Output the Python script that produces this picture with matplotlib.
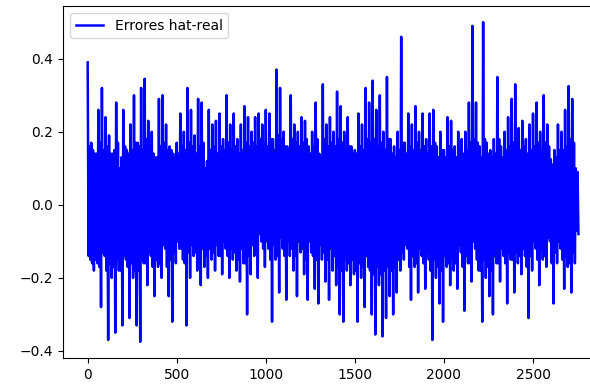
import numpy as np
import matplotlib
matplotlib.use('Agg')
import matplotlib.pyplot as plt

# upper / lower swings of the error series (one group every 20 samples)
highs = [0.39, 0.17, 0.14, 0.26, 0.32, 0.24, 0.19, 0.14, 0.28, 0.10,
         0.26, 0.15, 0.22, 0.30, 0.17, 0.32, 0.345, 0.23, 0.20, 0.13,
         0.29, 0.30, 0.22,
         0.16, 0.14, 0.17, 0.25, 0.20, 0.32, 0.26, 0.19, 0.29, 0.28,
         0.10, 0.26, 0.22, 0.23, 0.25, 0.18, 0.30, 0.22, 0.25, 0.18,
         0.22, 0.27, 0.24,
         0.20, 0.24, 0.25, 0.22, 0.26, 0.25, 0.18, 0.37, 0.32, 0.20,
         0.16, 0.30, 0.22, 0.20, 0.24, 0.23, 0.16, 0.20, 0.28, 0.14,
         0.33, 0.22, 0.24, 0.20,
         0.31, 0.27, 0.20, 0.24, 0.16, 0.15, 0.25, 0.22, 0.32, 0.28,
         0.34, 0.26, 0.30, 0.20, 0.35, 0.18, 0.16, 0.20, 0.46, 0.17,
         0.25, 0.22, 0.27, 0.20,
         0.25, 0.18, 0.25, 0.26, 0.16, 0.20, 0.15, 0.24, 0.23, 0.16,
         0.20, 0.18, 0.20, 0.28, 0.49, 0.28, 0.16, 0.50, 0.17, 0.15,
         0.18, 0.35, 0.16,
         0.20, 0.24, 0.29, 0.33, 0.21, 0.23, 0.18, 0.22, 0.25, 0.28,
         0.20, 0.30, 0.22, 0.125, 0.15, 0.22, 0.20, 0.26, 0.325, 0.29,
         0.10]
lows = [-0.15, -0.18, -0.16, -0.28, -0.14, -0.37, -0.20, -0.35, -0.18, -0.33,
        -0.15, -0.31, -0.20, -0.33, -0.375, -0.16, -0.22, -0.14, -0.25, -0.17,
        -0.20, -0.12, -0.25,
        -0.32, -0.16, -0.12, -0.15, -0.33, -0.20, -0.14, -0.18, -0.22, -0.17,
        -0.20, -0.15, -0.18, -0.14, -0.19, -0.12, -0.20, -0.15, -0.18, -0.21,
        -0.16, -0.30, -0.19,
        -0.14, -0.20, -0.10, -0.17, -0.12, -0.32, -0.15, -0.24, -0.12, -0.26,
        -0.14, -0.18, -0.25, -0.13, -0.19, -0.26, -0.13, -0.23, -0.27, -0.15,
        -0.21, -0.26, -0.18, -0.22,
        -0.30, -0.32, -0.18, -0.22, -0.19, -0.32, -0.20, -0.28, -0.17, -0.30,
        -0.355, -0.22, -0.36, -0.31, -0.25, -0.30, -0.24, -0.18, -0.15, -0.12,
        -0.26, -0.17, -0.24, -0.14,
        -0.23, -0.15, -0.37, -0.20, -0.27, -0.32, -0.17, -0.22, -0.18, -0.23,
        -0.13, -0.29, -0.16, -0.21, -0.12, -0.18, -0.32, -0.20, -0.25, -0.30,
        -0.16, -0.21, -0.14,
        -0.27, -0.15, -0.24, -0.16, -0.19, -0.14, -0.31, -0.18, -0.12, -0.22,
        -0.15, -0.17, -0.10, -0.27, -0.16, -0.12, -0.23, -0.17, -0.24, -0.16,
        -0.08]
# smaller swings inside the solid band
body_highs = [0.16, 0.15, 0.14, 0.17, 0.15, 0.16, 0.14, 0.15, 0.17, 0.13,
              0.16, 0.14, 0.15, 0.17, 0.16, 0.15, 0.18, 0.16, 0.14, 0.13,
              0.16, 0.17, 0.15,
              0.15, 0.13, 0.14, 0.16, 0.15, 0.17, 0.16, 0.14, 0.16, 0.17,
              0.12, 0.15, 0.16, 0.14, 0.16, 0.15, 0.17, 0.15, 0.16, 0.14,
              0.15, 0.17, 0.16,
              0.17, 0.16, 0.18, 0.17, 0.16, 0.18, 0.15, 0.19, 0.18, 0.16,
              0.15, 0.18, 0.17, 0.16, 0.17, 0.18, 0.14, 0.16, 0.18, 0.13,
              0.18, 0.16, 0.17, 0.16,
              0.18, 0.17, 0.15, 0.16, 0.14, 0.14, 0.16, 0.15, 0.18, 0.17,
              0.18, 0.16, 0.17, 0.15, 0.18, 0.14, 0.13, 0.15, 0.17, 0.14,
              0.16, 0.15, 0.17, 0.15,
              0.16, 0.14, 0.16, 0.17, 0.13, 0.15, 0.13, 0.16, 0.15, 0.13,
              0.15, 0.14, 0.15, 0.17, 0.18, 0.17, 0.13, 0.18, 0.14, 0.13,
              0.14, 0.18, 0.13,
              0.15, 0.16, 0.17, 0.18, 0.15, 0.16, 0.14, 0.15, 0.16, 0.17,
              0.15, 0.17, 0.16, 0.11, 0.13, 0.15, 0.15, 0.16, 0.18, 0.17,
              0.09]
body_lows = [-0.14, -0.16, -0.15, -0.17, -0.13, -0.18, -0.16, -0.17, -0.15, -0.18,
             -0.14, -0.17, -0.16, -0.18, -0.18, -0.15, -0.16, -0.13, -0.17, -0.15,
             -0.16, -0.11, -0.17,
             -0.15, -0.13, -0.10, -0.12, -0.16, -0.13, -0.11, -0.13, -0.15, -0.12,
             -0.14, -0.12, -0.13, -0.11, -0.14, -0.10, -0.14, -0.12, -0.13, -0.15,
             -0.12, -0.16, -0.14,
             -0.11, -0.13, -0.08, -0.12, -0.10, -0.15, -0.11, -0.14, -0.09, -0.14,
             -0.10, -0.12, -0.14, -0.10, -0.12, -0.15, -0.10, -0.14, -0.15, -0.11,
             -0.13, -0.15, -0.12, -0.14,
             -0.17, -0.18, -0.15, -0.16, -0.15, -0.18, -0.16, -0.17, -0.14, -0.18,
             -0.19, -0.17, -0.19, -0.18, -0.17, -0.18, -0.17, -0.15, -0.13, -0.11,
             -0.17, -0.14, -0.16, -0.12,
             -0.16, -0.13, -0.18, -0.15, -0.17, -0.18, -0.14, -0.16, -0.15, -0.16,
             -0.11, -0.17, -0.14, -0.16, -0.10, -0.15, -0.18, -0.15, -0.17, -0.18,
             -0.14, -0.16, -0.12,
             -0.16, -0.13, -0.15, -0.13, -0.14, -0.12, -0.17, -0.14, -0.10, -0.15,
             -0.12, -0.14, -0.09, -0.16, -0.13, -0.10, -0.15, -0.14, -0.16, -0.13,
             -0.07]
step = 20

# four samples per group: high, body low, body high, low
errores = np.ravel(np.column_stack([highs, body_lows, body_highs, lows]))
idx = np.arange(len(errores)) * (step // 4)

fig = plt.figure(figsize=(5.9, 3.86), dpi=100)
ax = fig.add_subplot(1, 1, 1)
fig.subplots_adjust(left=0.107, right=1.022, top=0.984, bottom=0.073)

ax.plot(idx, errores, color='b', lw=1.8, label='Errores hat-real')
ax.set_yticks([-0.4, -0.2, 0.0, 0.2, 0.4])
ax.set_xticks([0, 500, 1000, 1500, 2000, 2500])
ax.legend(loc='upper left')

fig.savefig('out.png', dpi=100)
